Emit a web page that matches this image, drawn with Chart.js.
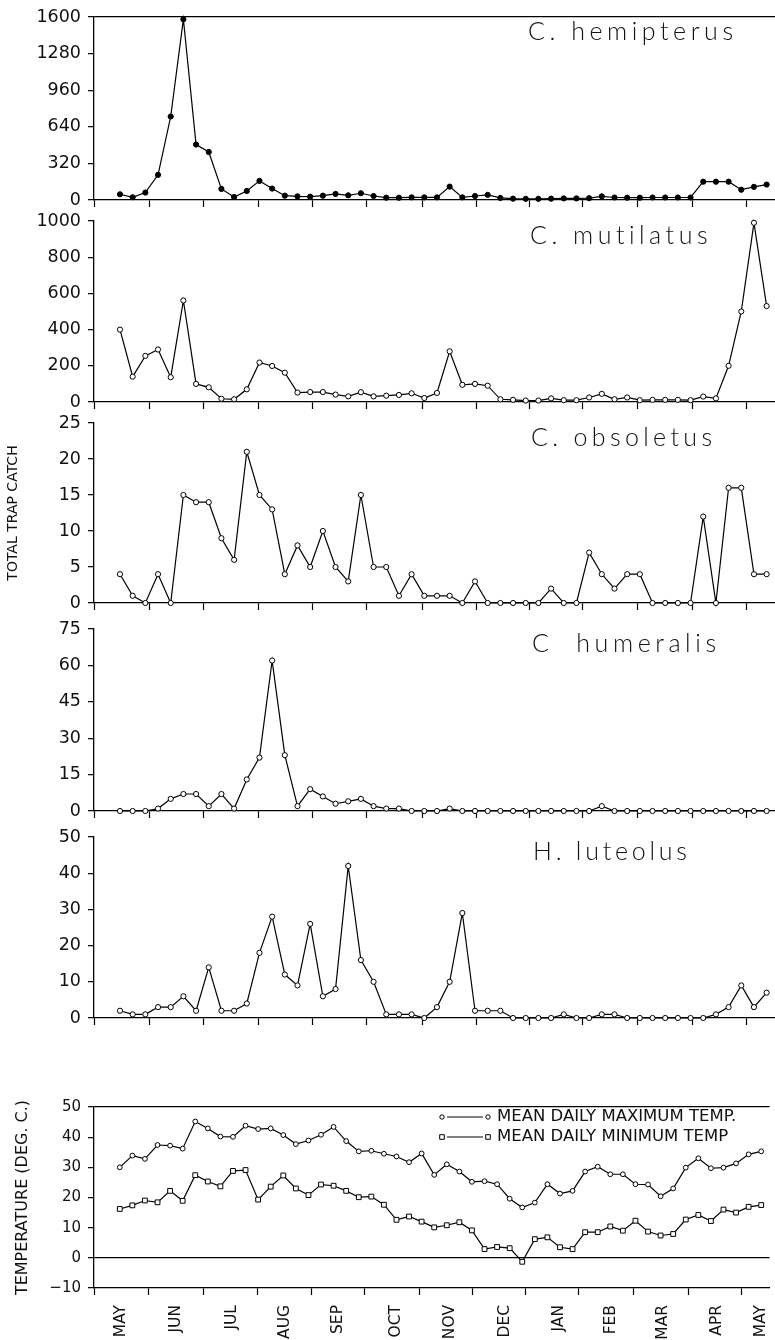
<!DOCTYPE html>
<html lang="en">
<head>
  <meta charset="UTF-8">
  <title>Trap catch and temperature</title>
  <script src="https://cdn.jsdelivr.net/npm/chart.js"></script>
  <style>
    body {
      margin: 0;
      background: #ffffff;
      width: 775px;
      height: 1340px;
      overflow: hidden;
      position: relative;
    }

    canvas {
      position: absolute;
      left: 0;
    }
  </style>
</head>

<body>
  <canvas id="c1"></canvas>
  <canvas id="c2"></canvas>
  <canvas id="c3"></canvas>
  <canvas id="c4"></canvas>
  <canvas id="c5"></canvas>
  <canvas id="c6"></canvas>

  <script>
    // weekly samples, x = week number from the first trap night
    const months = ["MAY", "JUN", "JUL", "AUG", "SEP", "OCT", "NOV", "DEC", "JAN", "FEB", "MAR", "APR", "MAY"];
    const monthEdges = [-2.05, 2.29, 6.62, 10.96, 15.22, 19.48, 23.82, 28.08, 32.26, 36.51, 40.85, 45.19, 49.45];
    const monthMids = [0.13, 4.47, 8.91, 13.15, 17.35, 21.92, 26.26, 30.6, 34.94, 39.04, 43.22, 47.46, 51.0];

    const hemipterus = [50, 24, 65, 220, 730, 1580, 485, 420, 97, 26, 79, 167, 100, 38, 32, 29, 38, 53, 41, 59,
      35, 20, 20, 23, 23, 23, 117, 23, 35, 45, 18, 12, 10, 10, 12, 14, 14, 16, 32, 22,
      20, 20, 22, 22, 22, 22, 160, 160, 160, 90, 115, 135];
    const mutilatus = [400, 140, 255, 290, 137, 561, 100, 81, 18, 15, 70, 218, 199, 162, 52, 55, 55, 41, 31, 54,
      31, 35, 39, 48, 22, 50, 280, 95, 100, 90, 15, 12, 8, 8, 20, 10, 10, 25, 45, 15,
      25, 10, 12, 12, 12, 10, 30, 20, 200, 500, 990, 530];
    const obsoletus = [4, 1, 0, 4, 0, 15, 14, 14, 9, 6, 21, 15, 13, 4, 8, 5, 10, 5, 3, 15,
      5, 5, 1, 4, 1, 1, 1, 0, 3, 0, 0, 0, 0, 0, 2, 0, 0, 7, 4, 2,
      4, 4, 0, 0, 0, 0, 12, 0, 16, 16, 4, 4];
    const humeralis = [0, 0, 0, 1, 5, 7, 7, 2, 7, 1, 13, 22, 62, 23, 2, 9, 6, 3, 4, 5,
      2, 1, 1, 0, 0, 0, 1, 0, 0, 0, 0, 0, 0, 0, 0, 0, 0, 0, 2, 0,
      0, 0, 0, 0, 0, 0, 0, 0, 0, 0, 0, 0];
    const luteolus = [2, 1, 1, 3, 3, 6, 2, 14, 2, 2, 4, 18, 28, 12, 9, 26, 6, 8, 42, 16,
      10, 1, 1, 1, 0, 3, 10, 29, 2, 2, 2, 0, 0, 0, 0, 1, 0, 0, 1, 1,
      0, 0, 0, 0, 0, 0, 0, 1, 3, 9, 3, 7];
    const tempMax = [30.0, 33.9, 32.8, 37.4, 37.2, 36.2, 45.2, 42.9, 40.2, 40.1, 43.8, 42.7, 42.9, 40.7, 37.7, 38.9, 40.8, 43.4, 38.7, 35.3,
      35.5, 34.5, 33.6, 31.7, 34.6, 27.5, 31.0, 28.6, 25.2, 25.4, 24.4, 19.6, 16.7, 18.3, 24.4, 21.3, 22.2, 28.6, 30.2, 27.7,
      27.7, 24.4, 24.3, 20.4, 23.0, 29.9, 33.0, 29.7, 29.9, 31.3, 34.3, 35.3];
    const tempMin = [16.2, 17.4, 19.0, 18.4, 22.2, 18.9, 27.4, 25.3, 23.7, 28.8, 29.1, 19.3, 23.6, 27.3, 23.0, 20.8, 24.3, 23.9, 22.2, 20.1,
      20.3, 17.6, 12.6, 13.7, 12.0, 10.1, 10.8, 11.8, 9.1, 2.9, 3.6, 3.2, -1.3, 6.2, 6.8, 3.5, 2.9, 8.5, 8.5, 10.4,
      9.0, 12.3, 8.7, 7.4, 7.9, 12.7, 14.2, 12.2, 16.0, 15.0, 16.9, 17.5];

    const hemiTicks = [0, 320, 640, 960, 1280, 1600];
    const mutiTicks = [0, 200, 400, 600, 800, 1000];
    const obsoTicks = [0, 5, 10, 15, 20, 25];
    const humeTicks = [0, 15, 30, 45, 60, 75];
    const luteTicks = [0, 10, 20, 30, 40, 50];
    const tempTicks = [-10, 0, 10, 20, 30, 40, 50];

    const FONT = "DejaVu Sans";

    function toPoints(values) {
      return values.map((v, i) => ({ x: i, y: v }));
    }

    // species name written inside the panel, top right
    const speciesPlugin = {
      id: "species",
      afterDraw(chart, args, o) {
        if (!o.text) return;
        const ctx = chart.ctx;
        ctx.save();
        ctx.font = "300 25px Lato";
        ctx.fillStyle = "#111";
        const w = ctx.measureText(o.text).width;
        ctx.letterSpacing = Math.max(0, (o.width - w) / (o.text.length - 1)).toFixed(2) + "px";
        ctx.fillText(o.text, o.x, chart.chartArea.top + 23);
        ctx.restore();
      }
    };

    // "o —— o  LABEL" legend of the temperature panel
    const tempLegend = {
      id: "tempLegend",
      afterDraw(chart, args, o) {
        if (!o.display) return;
        const { ctx, chartArea } = chart;
        chart.data.datasets.forEach((ds, i) => {
          const y = chartArea.top + 10 + i * 20;
          ctx.save();
          ctx.strokeStyle = "#000";
          ctx.lineWidth = 1;
          ctx.beginPath();
          ctx.moveTo(447, y);
          ctx.lineTo(483, y);
          ctx.stroke();
          [442, 488].forEach(x => {
            ctx.beginPath();
            if (ds.pointStyle === "rect") ctx.rect(x - 2.3, y - 2.3, 4.6, 4.6);
            else ctx.arc(x, y, 2.2, 0, Math.PI * 2);
            ctx.fillStyle = "#fff";
            ctx.fill();
            ctx.stroke();
          });
          ctx.font = "16.5px " + FONT;
          ctx.fillStyle = "#111";
          ctx.textBaseline = "middle";
          ctx.fillText(ds.label, 497, y);
          ctx.restore();
        });
      }
    };

    function makeChart(id, cfg) {
      const canvas = document.getElementById(id);
      canvas.width = 790;
      canvas.height = cfg.bottom - cfg.top + cfg.padTop + cfg.xHeight + cfg.padBottom;
      canvas.style.top = (cfg.top - cfg.padTop) + "px";

      const xTickVals = cfg.showMonths ? monthEdges.concat(monthMids).sort((a, b) => a - b) : monthEdges;
      const lines = cfg.lines || [];

      return new Chart(canvas, {
        type: "line",
        data: { datasets: cfg.datasets },
        options: {
          responsive: false,
          animation: false,
          layout: { padding: { top: cfg.padTop, right: 15, bottom: cfg.padBottom, left: 0 } },
          scales: {
            x: {
              type: "linear",
              min: -2.05,
              max: 51.66,
              afterBuildTicks: s => { s.ticks = xTickVals.map(v => ({ value: v })); },
              afterFit: s => { s.height = cfg.xHeight; },
              border: { display: true, color: "#000", width: 1.3 },
              grid: {
                drawOnChartArea: false,
                tickLength: 7,
                tickWidth: 1.2,
                tickColor: c => (c.tick && monthEdges.includes(c.tick.value)) ? "#000" : "rgba(0,0,0,0)"
              },
              ticks: {
                display: !!cfg.showMonths,
                autoSkip: false,
                minRotation: 90,
                maxRotation: 90,
                padding: 10,
                color: "#111",
                font: { family: FONT, size: 15.5 },
                callback: v => {
                  const k = monthMids.indexOf(v);
                  return k >= 0 ? months[k] : "";
                }
              }
            },
            y: {
              type: "linear",
              min: cfg.yTicks[0],
              max: cfg.yTicks[cfg.yTicks.length - 1],
              afterBuildTicks: s => { s.ticks = cfg.yTicks.map(v => ({ value: v })); },
              afterFit: s => { s.width = 94; },
              border: { display: true, color: "#000", width: 1.3 },
              grid: {
                drawOnChartArea: lines.length > 0,
                color: c => (c.tick && lines.includes(c.tick.value)) ? "#000" : "rgba(0,0,0,0)",
                lineWidth: 1.3,
                tickColor: "#000",
                tickLength: 6,
                tickWidth: 1.2
              },
              ticks: {
                color: "#111",
                padding: 7,
                font: { family: FONT, size: cfg.tickSize },
                callback: v => v < 0 ? "\u2212" + Math.abs(v) : String(v)
              },
              title: cfg.yTitle ? {
                display: true,
                text: cfg.yTitle,
                color: "#111",
                font: { family: FONT, size: cfg.yTitleSize },
                padding: { top: cfg.yTitlePad, bottom: 0 }
              } : { display: false }
            }
          },
          plugins: {
            legend: { display: false },
            tooltip: { enabled: false },
            species: cfg.species || {},
            tempLegend: { display: !!cfg.legend }
          }
        },
        plugins: [speciesPlugin, tempLegend]
      });
    }

    function countSeries(values, fill) {
      return [{
        data: toPoints(values),
        borderColor: "#000",
        borderWidth: 1.2,
        pointRadius: 2.6,
        pointBorderWidth: 1,
        pointBorderColor: "#000",
        pointBackgroundColor: fill,
        pointStyle: "circle",
        tension: 0,
        clip: false
      }];
    }

    const panel = { padTop: 18, padBottom: 10, xHeight: 8, tickSize: 17.5 };

    makeChart("c1", Object.assign({}, panel, {
      top: 17, bottom: 200, yTicks: hemiTicks, lines: [1600],
      datasets: countSeries(hemipterus, "#000"),
      species: { text: "C. hemipterus", x: 528, width: 205 }
    }));

    makeChart("c2", Object.assign({}, panel, {
      top: 221, bottom: 402, yTicks: mutiTicks,
      datasets: countSeries(mutilatus, "#fff"),
      species: { text: "C. mutilatus", x: 530, width: 178 }
    }));

    makeChart("c3", Object.assign({}, panel, {
      top: 423, bottom: 603, yTicks: obsoTicks,
      datasets: countSeries(obsoletus, "#fff"),
      species: { text: "C. obsoletus", x: 531, width: 181 },
      yTitle: "TOTAL TRAP CATCH", yTitleSize: 14, yTitlePad: 5
    }));

    makeChart("c4", Object.assign({}, panel, {
      top: 629, bottom: 811, yTicks: humeTicks,
      datasets: countSeries(humeralis, "#fff"),
      species: { text: "C  humeralis", x: 532, width: 184 }
    }));

    makeChart("c5", Object.assign({}, panel, {
      top: 837, bottom: 1018, yTicks: luteTicks,
      datasets: countSeries(luteolus, "#fff"),
      species: { text: "H. luteolus", x: 533, width: 154 }
    }));

    makeChart("c6", {
      top: 1107, bottom: 1288, padTop: 20, padBottom: 0, xHeight: 52, tickSize: 15,
      yTicks: tempTicks, lines: [50, 0], showMonths: true, legend: true,
      yTitle: "TEMPERATURE (DEG. C.)", yTitleSize: 16, yTitlePad: 13,
      datasets: [{
        label: "MEAN DAILY MAXIMUM TEMP.",
        data: toPoints(tempMax),
        borderColor: "#000",
        borderWidth: 1.2,
        pointRadius: 2.4,
        pointBorderWidth: 1,
        pointBorderColor: "#000",
        pointBackgroundColor: "#fff",
        pointStyle: "circle",
        tension: 0,
        clip: false
      }, {
        label: "MEAN DAILY MINIMUM TEMP",
        data: toPoints(tempMin),
        borderColor: "#000",
        borderWidth: 1.2,
        pointRadius: 3.4,
        pointBorderWidth: 1,
        pointBorderColor: "#000",
        pointBackgroundColor: "#fff",
        pointStyle: "rect",
        tension: 0,
        clip: false
      }]
    });
  </script>
</body>

</html>
